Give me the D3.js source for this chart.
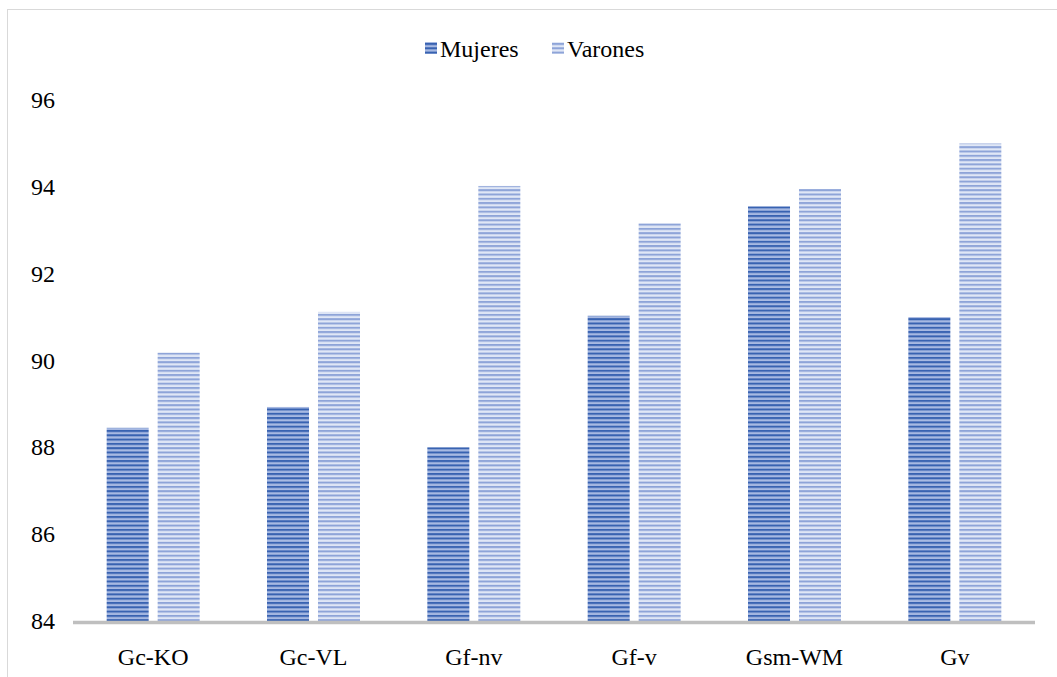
<!DOCTYPE html>
<html>
<head>
<meta charset="utf-8">
<script src="https://d3js.org/d3.v7.min.js"></script>
</head>
<body style="margin:0">
<script>
// datos
var categorias = ["Gc-KO", "Gc-VL", "Gf-nv", "Gf-v", "Gsm-WM", "Gv"];
var series = ["Mujeres", "Varones"];
var mujeres = [88.45, 88.93, 88.0, 91.03, 93.55, 91.0];
var varones = [90.18, 91.12, 94.02, 93.16, 93.95, 95.0];
var yTicks = [84, 86, 88, 90, 92, 94, 96];

var W = 1057, H = 677;
var margin = {top: 100, right: 22, bottom: 56, left: 73};
var fuente = "'Liberation Serif', monospace";

var svg = d3.select("body").append("svg")
    .attr("width", W)
    .attr("height", H)
    .style("display", "block");

// patrones de rayas horizontales
var defs = svg.append("defs");
var patrones = [
    {id: "patM", fondo: "#a7b9e2", raya: "#3862b1"},
    {id: "patV", fondo: "#e0e7f6", raya: "#8ea4d8"}
];
patrones.forEach(function(p) {
    var pat = defs.append("pattern")
        .attr("id", p.id)
        .attr("patternUnits", "userSpaceOnUse")
        .attr("width", 10)
        .attr("height", 4.3);
    pat.append("rect").attr("width", 10).attr("height", 4.3).attr("fill", p.fondo);
    pat.append("rect").attr("y", 0).attr("width", 10).attr("height", 2).attr("fill", p.raya);
});

// borde del area del grafico
svg.append("rect")
    .attr("x", 7.5).attr("y", 9.5)
    .attr("width", 1200).attr("height", 800)
    .attr("fill", "none")
    .attr("stroke", "#d9d9d9");

var x0 = d3.scaleBand()
    .domain(categorias)
    .range([margin.left, W - margin.right])
    .paddingInner(0.42)
    .paddingOuter(0.21);

var x1 = d3.scaleBand()
    .domain(series)
    .range([0, x0.bandwidth()])
    .paddingInner(0.176);

var y = d3.scaleLinear()
    .domain([84, 96])
    .range([H - margin.bottom, margin.top]);

// barras
var datos = categorias.map(function(c, i) {
    return {cat: c, valores: [mujeres[i], varones[i]]};
});

var grupos = svg.selectAll(".grupo")
    .data(datos)
    .enter().append("g")
    .attr("class", "grupo")
    .attr("transform", function(d) { return "translate(" + x0(d.cat) + ",0)"; });

grupos.selectAll("rect")
    .data(function(d) { return d.valores.map(function(v, j) { return {s: series[j], v: v}; }); })
    .enter().append("rect")
    .attr("x", function(d) { return x1(d.s); })
    .attr("y", function(d) { return y(d.v); })
    .attr("width", x1.bandwidth())
    .attr("height", function(d) { return y(84) - y(d.v); })
    .attr("fill", function(d) { return d.s === "Mujeres" ? "url(#patM)" : "url(#patV)"; });

// linea base
svg.append("line")
    .attr("x1", margin.left).attr("x2", W - margin.right)
    .attr("y1", y(84) + 1.5).attr("y2", y(84) + 1.5)
    .attr("stroke", "#bfbfbf")
    .attr("stroke-width", 3.5);

// etiquetas del eje y
svg.selectAll(".ytick")
    .data(yTicks)
    .enter().append("text")
    .attr("class", "ytick")
    .attr("x", margin.left - 18)
    .attr("y", function(d) { return y(d); })
    .attr("dy", "0.34em")
    .attr("text-anchor", "end")
    .attr("font-family", fuente)
    .style("font-family", fuente, "important")
    .style("font-size", "24px")
    .text(function(d) { return d; });

// etiquetas del eje x
svg.selectAll(".xtick")
    .data(categorias)
    .enter().append("text")
    .attr("class", "xtick")
    .attr("x", function(d) { return x0(d) + x0.bandwidth() / 2; })
    .attr("y", y(84) + 44)
    .attr("text-anchor", "middle")
    .attr("font-family", fuente)
    .style("font-family", fuente, "important")
    .style("font-size", "24px")
    .text(function(d) { return d; });

// leyenda
var leyenda = [
    {nombre: "Mujeres", pat: "url(#patM)", x: 425},
    {nombre: "Varones", pat: "url(#patV)", x: 552}
];
leyenda.forEach(function(l) {
    svg.append("rect")
        .attr("x", l.x).attr("y", 42)
        .attr("width", 12).attr("height", 12)
        .attr("fill", l.pat);
    svg.append("text")
        .attr("x", l.x + 15).attr("y", 57)
        .attr("font-family", fuente)
        .style("font-family", fuente, "important")
        .style("font-size", "24px")
        .text(l.nombre);
});
</script>
</body>
</html>
